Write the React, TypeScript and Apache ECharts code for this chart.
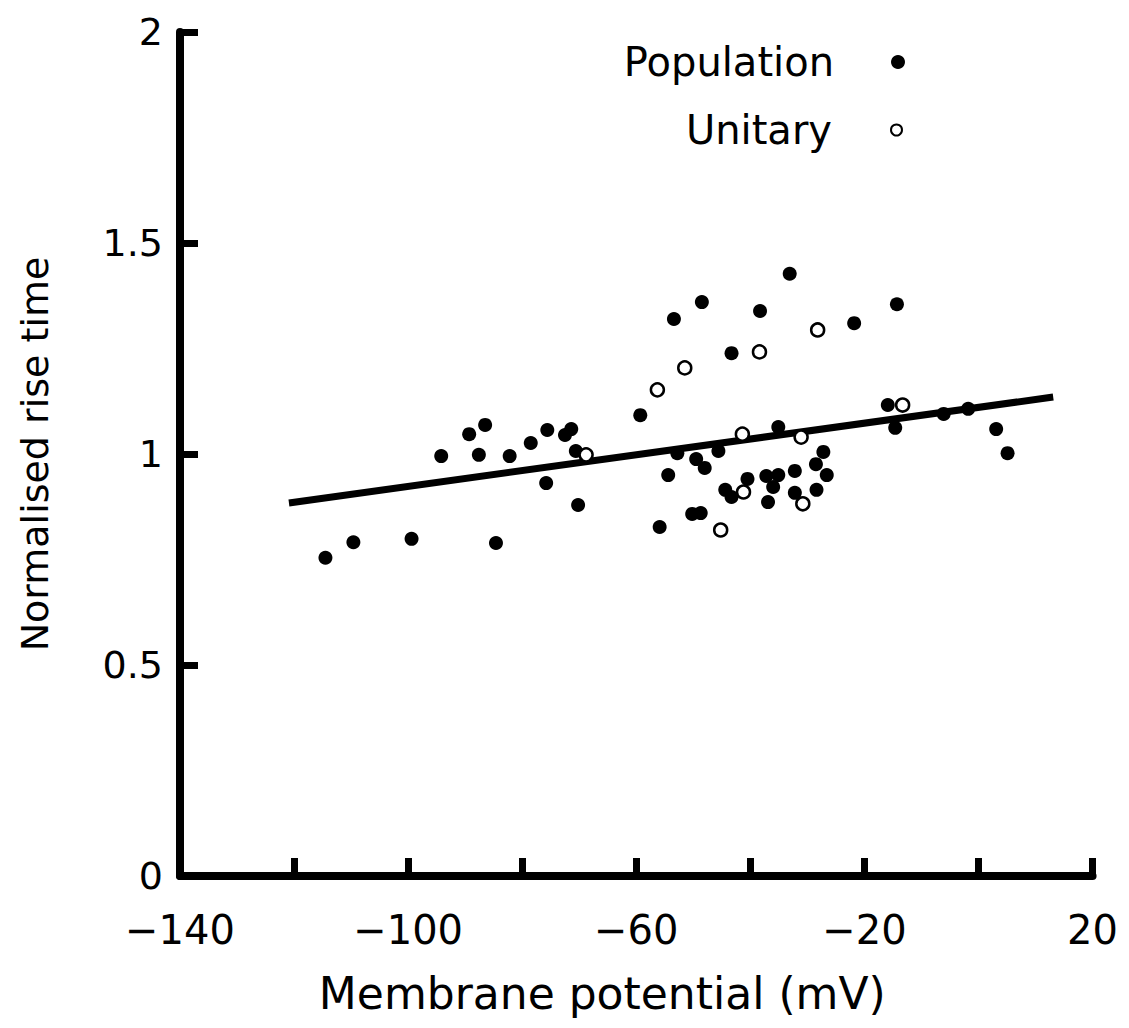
import React, { useEffect, useRef } from "react";
import * as echarts from "echarts";

const popX = [-114.5, -109.6, -99.4, -94.2, -89.3, -87.6, -86.5, -84.6, -82.2, -78.5, -75.6, -75.8, -72.5, -71.4, -70.6, -70.2, -59.3, -55.9, -54.4, -53.4, -52.8, -50.2, -49.5, -48.7, -48.5, -48.0, -45.6, -44.4, -43.3, -43.3, -40.5, -38.3, -37.2, -36.9, -36.0, -35.1, -35.1, -33.1, -32.2, -32.2, -28.5, -28.4, -27.2, -26.6, -21.8, -15.9, -14.6, -14.3, -6.1, -1.8, 3.1, 5.1];
const popY = [0.754, 0.791, 0.799, 0.995, 1.047, 0.998, 1.069, 0.789, 0.995, 1.026, 1.057, 0.931, 1.045, 1.059, 1.007, 0.879, 1.092, 0.827, 0.95, 1.32, 1.002, 0.858, 0.988, 0.86, 1.36, 0.967, 1.007, 0.915, 1.239, 0.898, 0.941, 1.339, 0.948, 0.886, 0.922, 0.95, 1.064, 1.427, 0.96, 0.908, 0.976, 0.915, 1.005, 0.95, 1.31, 1.116, 1.062, 1.355, 1.095, 1.107, 1.059, 1.002];

const unitX = [-68.8, -56.3, -51.5, -45.2, -41.4, -41.2, -38.4, -31.1, -30.8, -28.2, -13.3];
const unitY = [0.998, 1.152, 1.204, 0.82, 1.047, 0.91, 1.242, 1.04, 0.882, 1.294, 1.116];

const fitX = [-120.9, 13.1];
const fitY = [0.884, 1.135];

const xTicks = { min: -140, max: 20, interval: 20 };
const xLabelled = [-140, -100, -60, -20, 20];
const yTicks = { min: 0, max: 2, interval: 0.5 };

const FONT = "DejaVu Sans";

export default function App() {
  const ref = useRef<HTMLDivElement>(null);
  useEffect(() => {
    if (!ref.current) return;
    const chart = echarts.init(ref.current, null, { renderer: "svg" });
    const zip = (a: number[], b: number[]) => a.map((v, i) => [v, b[i]]);
    chart.setOption({
      animation: false,
      backgroundColor: "#fff",
      grid: { left: 169, right: 21, top: 24, bottom: 140, containLabel: false },
      legend: [
        {
          data: ["Population"],
          orient: "vertical",
          align: "right",
          right: 211,
          top: 29,
          itemWidth: 14,
          itemHeight: 14,
          textStyle: { fontFamily: FONT, fontSize: 40, color: "#000", padding: [0, 52, 0, 0] },
        },
        {
          data: ["Unitary"],
          orient: "vertical",
          align: "right",
          right: 213,
          top: 97,
          itemWidth: 11,
          itemHeight: 11,
          textStyle: { fontFamily: FONT, fontSize: 40, color: "#000", padding: [0, 54, 0, 0] },
        },
      ],
      xAxis: {
        type: "value",
        min: xTicks.min,
        max: xTicks.max,
        interval: xTicks.interval,
        name: "Membrane potential (mV)",
        nameLocation: "middle",
        nameGap: 95,
        nameTextStyle: { fontFamily: FONT, fontSize: 44, color: "#000", padding: [0, 68, 0, 0] },
        axisLine: { show: true, onZero: false, lineStyle: { color: "#000", width: 8 } },
        axisTick: { show: true, inside: true, length: 18, lineStyle: { color: "#000", width: 7 } },
        axisLabel: {
          margin: 34,
          fontFamily: FONT,
          fontSize: 40,
          color: "#000",
          showMinLabel: true,
          showMaxLabel: true,
          formatter: (v: number) =>
            xLabelled.indexOf(v) < 0 ? "" : v < 0 ? "\u2212" + Math.abs(v) : String(v),
        },
        splitLine: { show: false },
      },
      yAxis: {
        type: "value",
        min: yTicks.min,
        max: yTicks.max,
        interval: yTicks.interval,
        name: "Normalised rise time",
        nameLocation: "middle",
        nameGap: 126,
        nameTextStyle: { fontFamily: FONT, fontSize: 38, color: "#000" },
        axisLine: { show: true, onZero: false, lineStyle: { color: "#000", width: 8 } },
        axisTick: { show: true, inside: true, length: 18, lineStyle: { color: "#000", width: 7 } },
        axisLabel: { margin: 17, fontFamily: FONT, fontSize: 38, color: "#000" },
        splitLine: { show: false },
      },
      series: [
        {
          name: "Fit",
          type: "line",
          data: zip(fitX, fitY),
          symbol: "none",
          lineStyle: { color: "#000", width: 7 },
          z: 2,
        },
        {
          name: "Population",
          type: "scatter",
          data: zip(popX, popY),
          symbol: "circle",
          symbolSize: 14,
          itemStyle: { color: "#000", opacity: 1 },
          z: 3,
        },
        {
          name: "Unitary",
          type: "scatter",
          data: zip(unitX, unitY),
          symbol: "circle",
          symbolSize: 13,
          itemStyle: { color: "#fff", borderColor: "#000", borderWidth: 2.5, opacity: 1 },
          z: 4,
        },
      ],
    });
    return () => chart.dispose();
  }, []);
  return <div ref={ref} style={{ width: 1113, height: 1012 }} />;
}
